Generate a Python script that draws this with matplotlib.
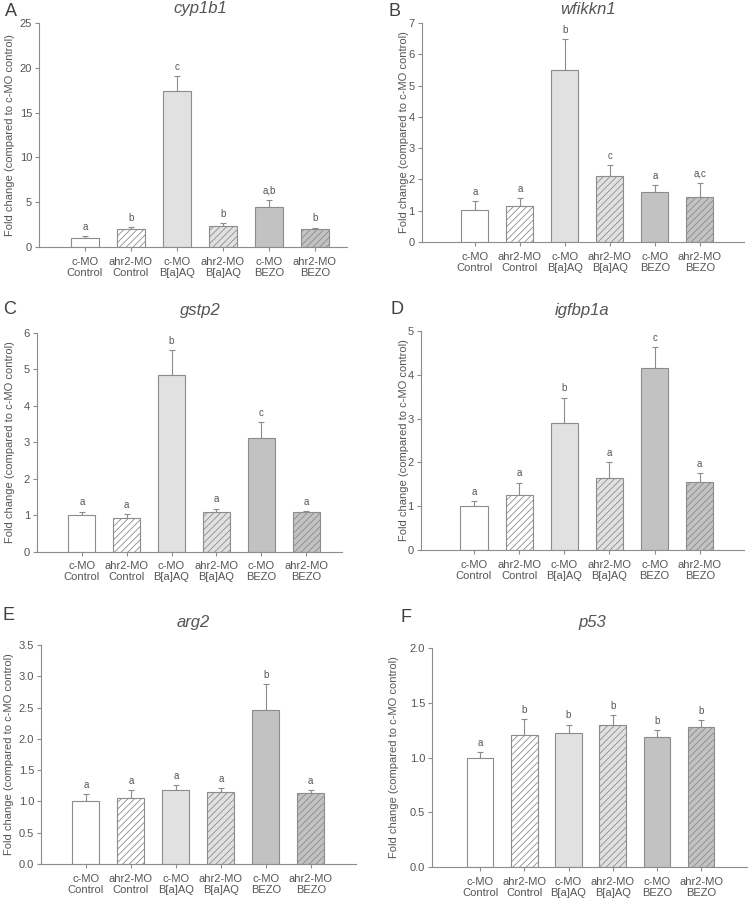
import numpy as np
import matplotlib
matplotlib.use('Agg')
import matplotlib.pyplot as plt

plt.rcParams['font.family'] = ['Liberation Sans', 'DejaVu Sans']
plt.rcParams['hatch.linewidth'] = 0.6

groups = ['c-MO\nControl', 'ahr2-MO\nControl', 'c-MO\nB[a]AQ',
          'ahr2-MO\nB[a]AQ', 'c-MO\nBEZO', 'ahr2-MO\nBEZO']
fills = ['white', 'white', '#e1e1e1', '#e1e1e1', '#c2c2c2', '#c2c2c2']
hatches = [None, '/////', None, '/////', None, '/////']

genes = ['cyp1b1', 'wfikkn1', 'gstp2', 'igfbp1a', 'arg2', 'p53']
panel_letters = ['A', 'B', 'C', 'D', 'E', 'F']

cyp1b1_mean = [1.04, 2.0, 17.4, 2.38, 4.5, 2.0]
cyp1b1_err = [0.16, 0.23, 1.65, 0.33, 0.74, 0.16]
cyp1b1_sig = ['a', 'b', 'c', 'b', 'a,b', 'b']

wfikkn1_mean = [1.03, 1.14, 5.51, 2.11, 1.60, 1.44]
wfikkn1_err = [0.28, 0.26, 0.97, 0.36, 0.21, 0.46]
wfikkn1_sig = ['a', 'a', 'b', 'c', 'a', 'a,c']

gstp2_mean = [1.0, 0.93, 4.83, 1.10, 3.12, 1.08]
gstp2_err = [0.10, 0.09, 0.69, 0.08, 0.42, 0.03]
gstp2_sig = ['a', 'a', 'b', 'a', 'c', 'a']

igfbp1a_mean = [1.0, 1.26, 2.91, 1.64, 4.15, 1.55]
igfbp1a_err = [0.12, 0.28, 0.57, 0.36, 0.48, 0.20]
igfbp1a_sig = ['a', 'a', 'b', 'a', 'c', 'a']

arg2_mean = [1.0, 1.06, 1.19, 1.15, 2.46, 1.13]
arg2_err = [0.12, 0.12, 0.07, 0.06, 0.41, 0.05]
arg2_sig = ['a', 'a', 'a', 'a', 'b', 'a']

p53_mean = [1.0, 1.21, 1.22, 1.30, 1.19, 1.28]
p53_err = [0.05, 0.14, 0.08, 0.085, 0.06, 0.06]
p53_sig = ['a', 'b', 'b', 'b', 'b', 'b']

means = [cyp1b1_mean, wfikkn1_mean, gstp2_mean, igfbp1a_mean, arg2_mean, p53_mean]
errs = [cyp1b1_err, wfikkn1_err, gstp2_err, igfbp1a_err, arg2_err, p53_err]
sigs = [cyp1b1_sig, wfikkn1_sig, gstp2_sig, igfbp1a_sig, arg2_sig, p53_sig]
yticks = [np.arange(0, 26, 5), np.arange(0, 8, 1), np.arange(0, 7, 1),
          np.arange(0, 6, 1), np.arange(0, 3.6, 0.5), np.arange(0, 2.1, 0.5)]
ytick_fmt = ['%d', '%d', '%d', '%d', '%.1f', '%.1f']

# layout (pixels in the 751x899 figure): axes rect, xlim, letter pos, title pos, ylabel x
W, H = 751, 899
rects_px = [(39, 23, 347, 247), (421.7, 23, 744, 242), (37, 332.7, 342, 551.7),
            (420.7, 331, 744, 550), (41, 645, 355.7, 864), (432, 648, 747, 867)]
xlims = [(-1.0, 5.7), (-1.18, 5.98), (-1.0, 5.8), (-1.18, 5.98), (-1.0, 6.0), (-1.09, 6.04)]
letter_px = [(5, 11), (389, 11), (3, 309), (391, 309), (2, 616), (400, 617)]
title_px = [(200, 9), (588, 9), (200, 311), (582, 311), (193, 623), (592, 623)]
ylab_px = [10, 404, 10, 404, 9, 394]

txt = '#555555'
line = '#8c8c8c'

fig = plt.figure(figsize=(W / 100, H / 100), dpi=100)
x = np.arange(len(groups))

for i in range(6):
    l, t, r, b = rects_px[i]
    ax = fig.add_axes([l / W, 1 - b / H, (r - l) / W, (b - t) / H])
    m = np.array(means[i])
    e = np.array(errs[i])
    ax.errorbar(x, m, yerr=[np.zeros_like(e), e], fmt='none', ecolor=line,
                elinewidth=0.8, capsize=2.5, capthick=0.8, zorder=1)
    ax.bar(x, m, width=0.6, color=fills, edgecolor=line, linewidth=0.8,
           hatch=hatches, zorder=2)
    for xi, top, s in zip(x, m + e, sigs[i]):
        ax.annotate(s, (xi, top), xytext=(0, 3), textcoords='offset points',
                    ha='center', va='bottom', fontsize=7, color=txt)
    ax.set_xlim(*xlims[i])
    ax.set_ylim(yticks[i][0], yticks[i][-1])
    ax.set_yticks(yticks[i])
    ax.set_yticklabels([ytick_fmt[i] % v for v in yticks[i]])
    ax.set_xticks(x)
    ax.set_xticklabels(groups, linespacing=1.1)
    for sp in ['top', 'right']:
        ax.spines[sp].set_visible(False)
    for sp in ['left', 'bottom']:
        ax.spines[sp].set_color(line)
        ax.spines[sp].set_linewidth(0.8)
    ax.tick_params(axis='both', colors=line, labelcolor=txt, labelsize=8,
                   length=3, width=0.8, direction='out')
    ax.tick_params(axis='x', pad=4)
    ax.tick_params(axis='y', pad=2)

    fig.text(letter_px[i][0] / W, 1 - letter_px[i][1] / H, panel_letters[i],
             fontsize=13, color='#404040', ha='left', va='center')
    fig.text(title_px[i][0] / W, 1 - title_px[i][1] / H, genes[i], fontsize=12,
             style='italic', color=txt, ha='center', va='center')
    fig.text(ylab_px[i] / W, 1 - (t + b) / 2 / H, 'Fold change (compared to c-MO control)',
             rotation=90, fontsize=8, color=txt, ha='center', va='center')

plt.savefig('out.png', dpi=100)
